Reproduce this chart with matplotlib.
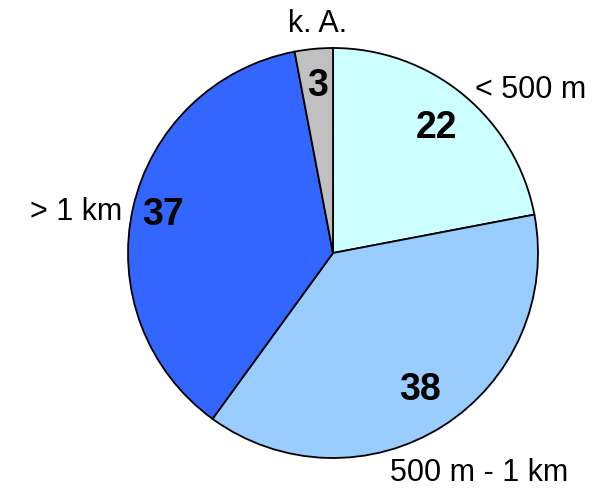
import matplotlib
matplotlib.use("Agg")
import matplotlib.pyplot as plt
import numpy as np

categories = ["< 500 m", "500 m - 1 km", "> 1 km", "k. A."]
values = [22, 38, 37, 3]
colors = ["#CCFFFF", "#99CCFF", "#3366FF", "#C0C0C0"]

W, H = 605, 488
fig = plt.figure(figsize=(W / 100, H / 100), dpi=100)
ax = fig.add_axes([0, 0, 1, 1])

cx, cy, r = 333, H - 253, 205
wedges, _ = ax.pie(values, colors=colors, startangle=90, counterclock=False,
                   center=(cx, cy), radius=r, frame=True,
                   wedgeprops=dict(edgecolor="black", linewidth=1.3))
ax.set_xlim(0, W)
ax.set_ylim(0, H)
ax.set_aspect("equal")
ax.axis("off")

font = "Liberation Sans"
# value labels inside wedges
pct_dist = [0.79, 0.79, 0.85, 0.82]
for w, v, d in zip(wedges, values, pct_dist):
    ang = np.deg2rad((w.theta1 + w.theta2) / 2)
    ax.text(cx + d * r * np.cos(ang), cy + d * r * np.sin(ang), str(v),
            ha="center", va="center", fontsize=27, fontweight="bold",
            family=font)

# category labels (pixel positions of label centers)
label_pos = [(531, 90), (479, 473), (76, 212), (318, 24)]
for lab, (x, y) in zip(categories, label_pos):
    ax.text(x, H - y, lab, ha="center", va="center", fontsize=22, family=font)

fig.savefig("out.png", dpi=100)
